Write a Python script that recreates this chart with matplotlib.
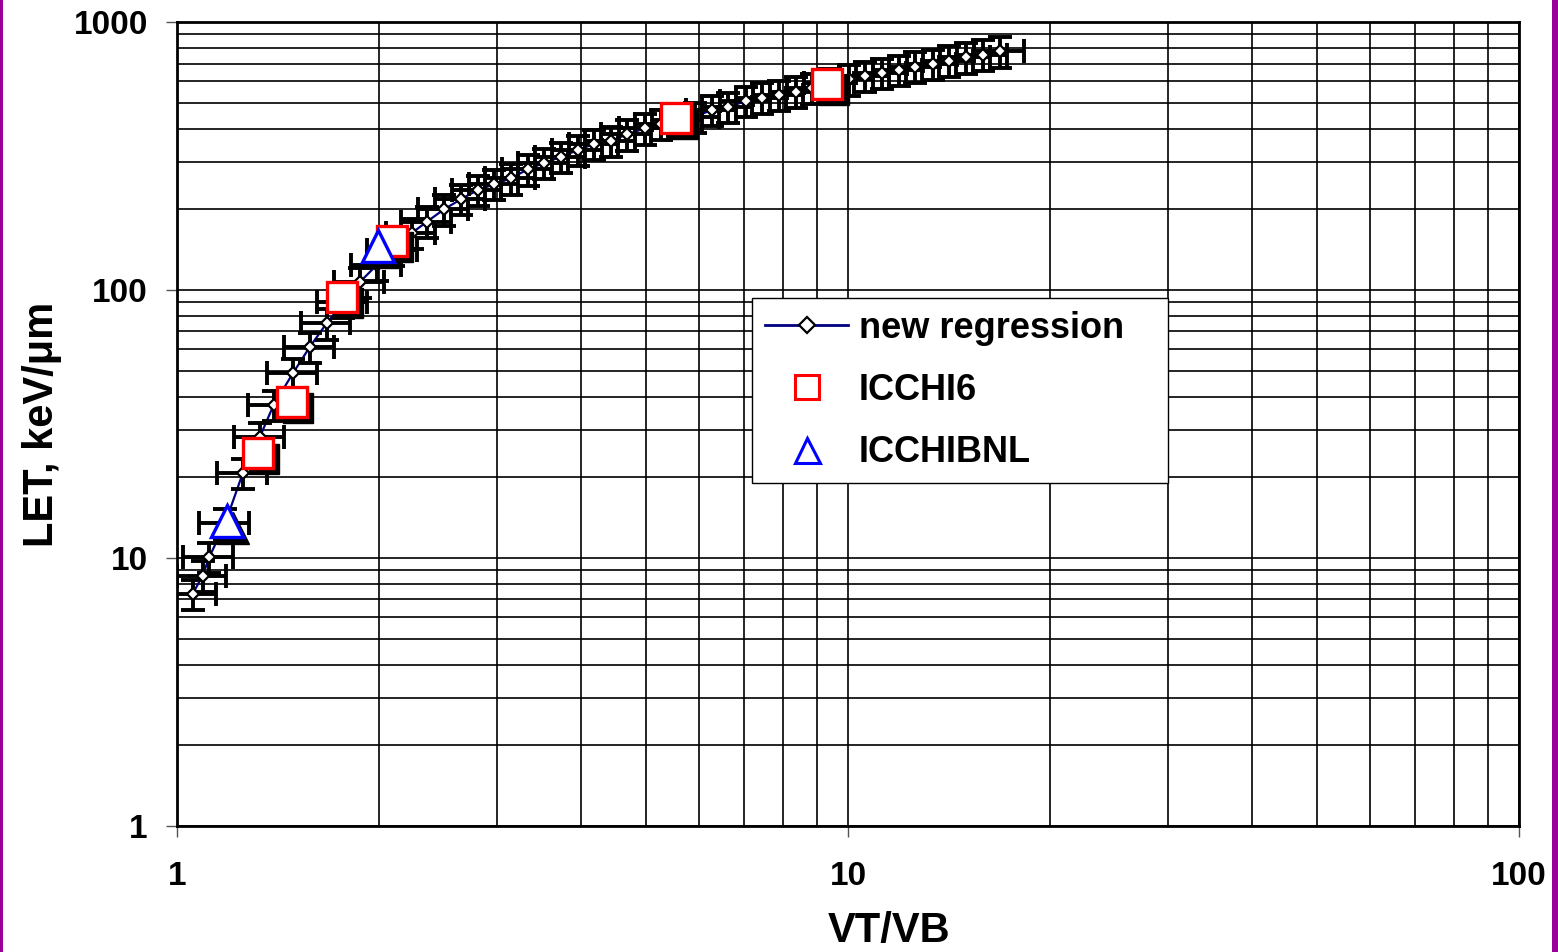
import matplotlib
matplotlib.use("Agg")
import matplotlib.pyplot as plt
import matplotlib.transforms as mtransforms
from matplotlib.lines import Line2D
from matplotlib.patches import Rectangle

plt.rcParams['font.family'] = ['Liberation Sans', 'DejaVu Sans']
plt.rcParams['font.weight'] = 'bold'

# regression curve LET vs VT/VB
vt_vb = [1.055, 1.092, 1.117, 1.18, 1.254, 1.329, 1.393, 1.490, 1.578, 1.671,
         1.77, 1.873, 1.985, 2.10, 2.237, 2.359, 2.500, 2.649, 2.805, 2.972,
         3.145, 3.332, 3.527, 3.735, 3.958, 4.189, 4.43, 4.69, 4.98, 5.26,
         5.58, 5.91, 6.27, 6.62, 7.04, 7.45, 7.89, 8.36, 8.85, 9.40,
         10.04, 10.6, 11.24, 11.9, 12.6, 13.37, 14.15, 15.0, 15.9, 16.84]
let_fit = [7.34, 8.59, 10.06, 13.5, 20.8, 28.3, 37.2, 49.1, 61.4, 75.1,
           90, 107, 124, 141, 163, 180, 200, 218, 236, 248,
           261, 282, 298, 314, 333, 351, 360, 381, 401, 416,
           430, 443, 470, 481, 507, 522, 534, 550, 567, 590,
           611, 629, 644, 662, 681, 697, 717, 738, 755, 777]
xerr_frac = 0.085
yerr_frac = 0.13

# measured points
icchi6_x = [1.32, 1.482, 1.76, 2.09, 5.55, 9.32]
icchi6_y = [24.6, 38.3, 94.4, 152.6, 439, 586]
bnl_x = [1.187, 1.99]
bnl_y = [13.7, 146]

fig = plt.figure(figsize=(15.58, 9.52), dpi=100)
ax = fig.add_axes([0.1136, 0.1324, 0.8614, 0.8445])
ax.set_xscale('log')
ax.set_yscale('log')
ax.set_xlim(1, 100)
ax.set_ylim(1, 1000)

ax.grid(True, which='both', color='black', linewidth=1.2)
ax.set_axisbelow(True)

ax.plot(vt_vb, let_fit, color='#000080', linewidth=1.6, zorder=3)
ax.errorbar(vt_vb, let_fit,
            xerr=[v * xerr_frac for v in vt_vb],
            yerr=[v * yerr_frac for v in let_fit],
            fmt='none', ecolor='black', elinewidth=2.8, capsize=8.5, capthick=2.8, zorder=4)
ax.plot(vt_vb, let_fit, linestyle='none', marker='D', markersize=6.5,
        markerfacecolor='white', markeredgecolor='black', markeredgewidth=1.6, zorder=5)

# drop shadows behind the big markers
shadow = mtransforms.offset_copy(ax.transData, fig=fig, x=4.5, y=-4.5, units='points')
ax.plot(icchi6_x, icchi6_y, linestyle='none', marker='s', markersize=21,
        color='black', transform=shadow, zorder=6)
ax.plot(bnl_x, bnl_y, linestyle='none', marker='^', markersize=23,
        color='black', transform=shadow, zorder=6)
ax.plot(icchi6_x, icchi6_y, linestyle='none', marker='s', markersize=21,
        markerfacecolor='white', markeredgecolor='#ff0000', markeredgewidth=2.4, zorder=7)
ax.plot(bnl_x, bnl_y, linestyle='none', marker='^', markersize=23,
        markerfacecolor='white', markeredgecolor='#0000ff', markeredgewidth=2.4, zorder=7)

ax.set_xticks([1, 10, 100], labels=['1', '10', '100'])
ax.set_yticks([1, 10, 100, 1000], labels=['1', '10', '100', '1000'])
ax.tick_params(which='major', length=8, width=1, color='#555555', labelsize=24)
ax.tick_params(axis='y', which='major', pad=13)
ax.tick_params(axis='x', which='major', pad=17)
ax.tick_params(which='minor', length=0)
for s in ax.spines.values():
    s.set_linewidth(2)
    s.set_color('black')

ax.set_xlabel('VT/VB', fontsize=30, fontweight='bold')
ax.xaxis.set_label_coords(0.5306, -0.106)
ax.set_ylabel('LET, keV/\u03bcm', fontsize=30, fontweight='bold', labelpad=8)

handles = [
    Line2D([], [], color='#000080', linewidth=2, marker='D', markersize=8,
           markerfacecolor='white', markeredgecolor='black', markeredgewidth=1.6),
    Line2D([], [], linestyle='none', marker='s', markersize=17,
           markerfacecolor='white', markeredgecolor='#ff0000', markeredgewidth=2.2),
    Line2D([], [], linestyle='none', marker='^', markersize=18,
           markerfacecolor='white', markeredgecolor='#0000ff', markeredgewidth=2.2),
]
leg = ax.legend(handles, ['new regression', 'ICCHI6', 'ICCHIBNL'],
                loc='upper left', bbox_to_anchor=(0.4285, 0.4266, 0.31, 0.2301),
                mode='expand', borderaxespad=0,
                fancybox=False, framealpha=1, edgecolor='black',
                prop={'size': 26, 'weight': 'bold'},
                handlelength=2.3, handletextpad=0.3, labelspacing=0.75,
                borderpad=0.36)
leg.get_frame().set_linewidth(1)
leg.set_zorder(10)

# purple side bands of the slide
fig.patches.append(Rectangle((0, 0), 3 / 1558, 1, transform=fig.transFigure,
                             facecolor='#990099', edgecolor='none'))
fig.patches.append(Rectangle((1552 / 1558, 0), 6 / 1558, 1, transform=fig.transFigure,
                             facecolor='#990099', edgecolor='none'))

fig.savefig('out.png', dpi=100)
